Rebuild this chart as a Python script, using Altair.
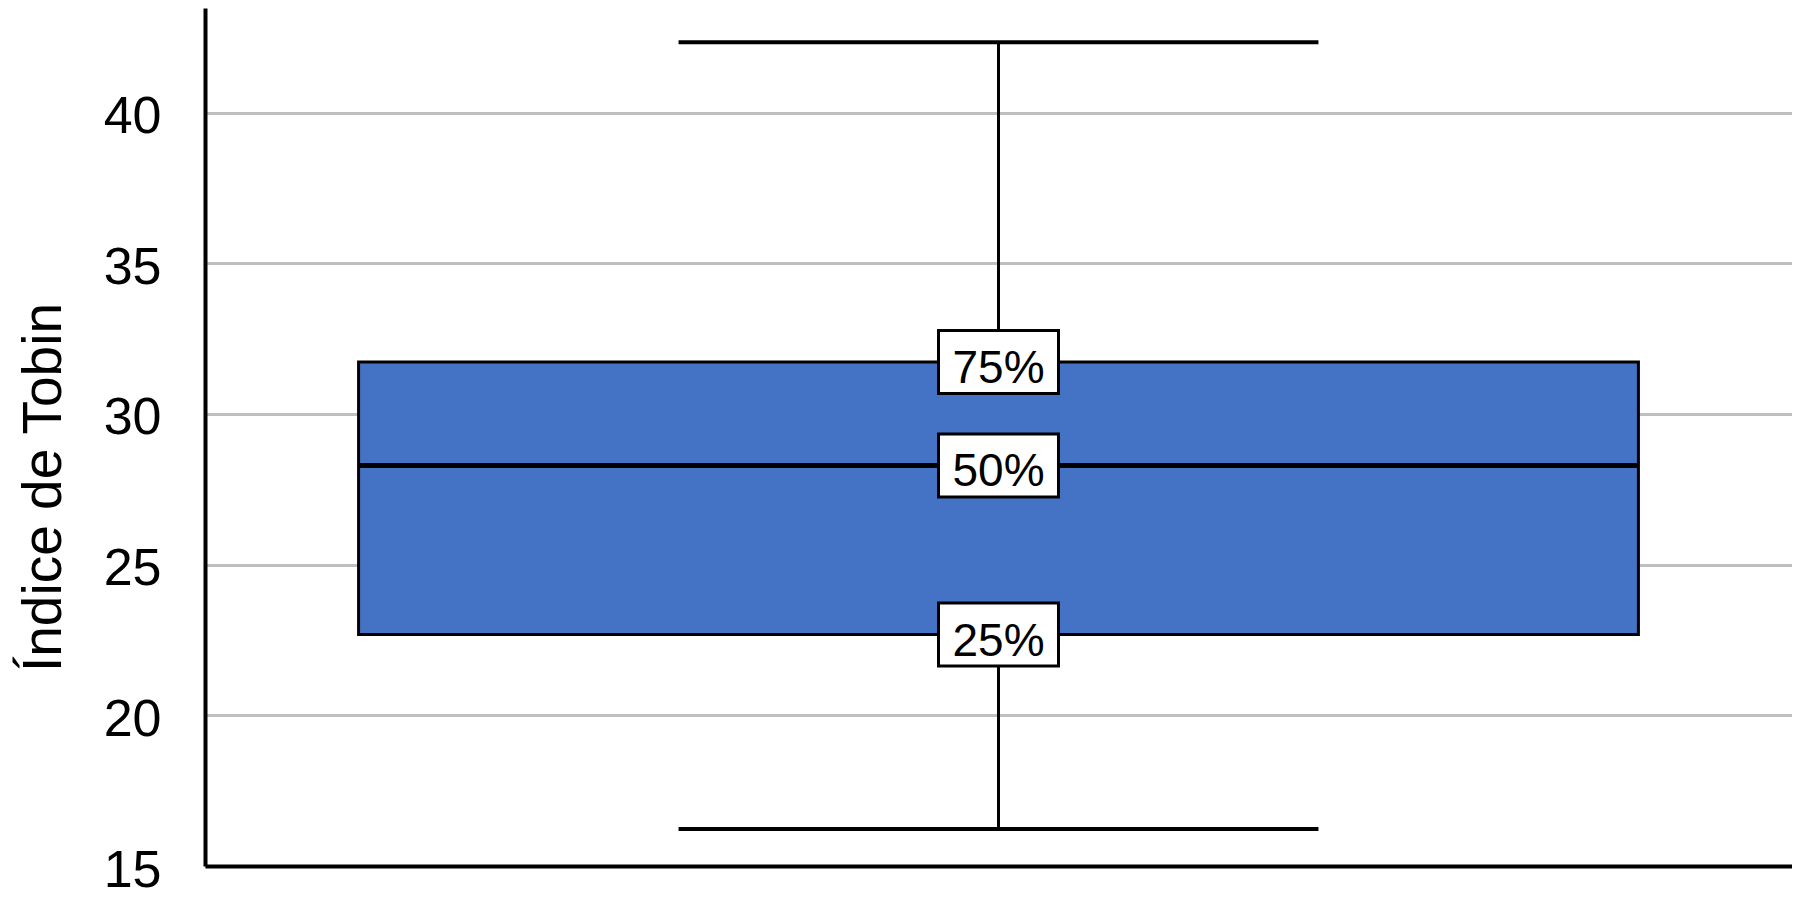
import altair as alt
import pandas as pd

# ---- data ----
categories = ["Índice de Tobin"]
lower_whisker = [16.23]
q1 = [22.68]
median = [28.29]
q3 = [31.72]
upper_whisker = [42.33]
label_texts = ["25%", "50%", "75%"]
y_ticks = [15, 20, 25, 30, 35, 40]
y_title = "Índice de Tobin"

box_df = pd.DataFrame({
    "cat": categories,
    "lower": lower_whisker,
    "q1": q1,
    "median": median,
    "q3": q3,
    "upper": upper_whisker,
})
label_df = pd.DataFrame({
    "cat": categories * 3,
    "value": [q1[0], median[0], q3[0]],
    "text": label_texts,
})

FONT = "Liberation Sans"

x_scale = alt.Scale(paddingInner=0, paddingOuter=0.12)
x_axis = alt.Axis(labels=False, ticks=False, title=None, grid=False,
                  domain=True, domainColor="black", domainWidth=4)
y_scale = alt.Scale(domain=[15, 43.47], nice=False, zero=False)
y_axis = alt.Axis(values=y_ticks, title=y_title, grid=True,
                  gridColor="#BFBFBF", gridWidth=3,
                  domain=True, domainColor="black", domainWidth=4,
                  ticks=False,
                  labelFont=FONT, labelFontSize=52, labelColor="black",
                  labelPadding=44, labelBaseline="alphabetic", labelOffset=20,
                  titleFont=FONT, titleFontSize=55, titleFontWeight="normal",
                  titleColor="black", titleAngle=270, titleX=-145, titleY=479,
                  titleAlign="center", titleBaseline="alphabetic")


def X(band=None):
    if band is None:
        return alt.X("cat:N", scale=x_scale, axis=x_axis)
    return alt.X("cat:N", scale=x_scale, axis=x_axis, bandPosition=band)


def Y(field):
    return alt.Y(f"{field}:Q", scale=y_scale, axis=y_axis)


base = alt.Chart(box_df)

whisker_hi = base.mark_rule(color="black", strokeWidth=3).encode(
    x=X(), y=Y("q3"), y2="upper")
whisker_lo = base.mark_rule(color="black", strokeWidth=3).encode(
    x=X(), y=Y("lower"), y2="q1")

box = base.mark_rect(color="#4472C4", stroke="black", strokeWidth=3).encode(
    x=X(), y=Y("q1"), y2="q3")

median_line = base.mark_rule(color="black", strokeWidth=5).encode(
    x=X(0), x2=alt.X2("cat", bandPosition=1), y=Y("median"))

cap_hi = base.mark_rule(color="black", strokeWidth=4).encode(
    x=X(0.25), x2=alt.X2("cat", bandPosition=0.75), y=Y("upper"))
cap_lo = base.mark_rule(color="black", strokeWidth=4).encode(
    x=X(0.25), x2=alt.X2("cat", bandPosition=0.75), y=Y("lower"))

label_box = alt.Chart(label_df).mark_point(
    shape="M-1,-0.525H1V0.525H-1Z", size=14400, filled=True,
    fill="white", stroke="black", strokeWidth=3, opacity=1,
).encode(x=X(), y=Y("value"))

label_text = alt.Chart(label_df).mark_text(
    font=FONT, fontSize=46, color="black", align="center",
    baseline="alphabetic", dy=21,
).encode(x=X(), y=Y("value"), text="text:N")

chart = alt.layer(
    whisker_hi, whisker_lo, box, median_line, cap_hi, cap_lo,
    label_box, label_text,
).properties(
    width=1587, height=858,
    padding={"left": 197, "top": 0, "right": 0, "bottom": 40},
    autosize=alt.AutoSizeParams(type="none"),
    background="white",
).configure_view(stroke=None)

chart.save("out.html", embed_options={"renderer": "svg", "actions": False})
